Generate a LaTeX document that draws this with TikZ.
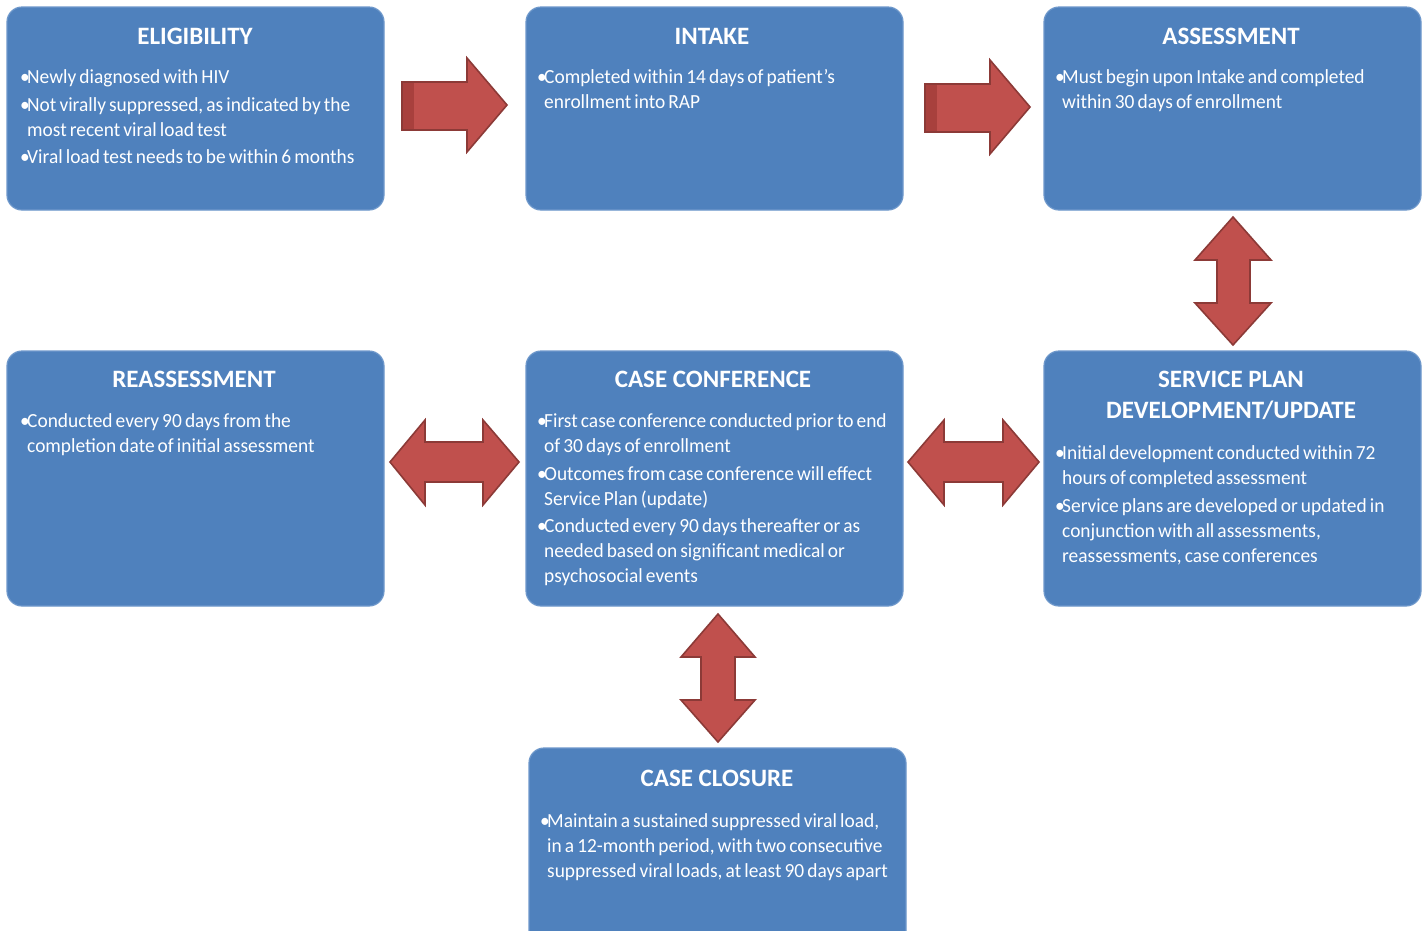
\documentclass[tikz,border=0pt]{standalone}
\usepackage{fontspec}
\setmainfont{Carlito}[FakeStretch=0.97, WordSpace=0.7]
\newfontfamily\titlefont{Carlito}
\definecolor{boxblue}{HTML}{4F81BD}
\definecolor{boxedge}{HTML}{6E98CB}
\definecolor{arrred}{HTML}{C0504D}
\definecolor{arredge}{HTML}{8C3A37}
\definecolor{arrdark}{HTML}{A8403D}
\newcommand{\bul}{\makebox[7pt][l]{\textbullet}}
\tikzset{
  blockbox/.style={draw=boxedge, line width=1.2pt, fill=boxblue, rounded corners=15pt},
  boxtitle/.style={text=white, font=\titlefont\fontsize{25}{31}\selectfont\bfseries, align=center, inner sep=0pt},
  boxbody/.style={text=white, font=\fontsize{20}{25}\selectfont, anchor=north west, inner sep=0pt}
  ,blockarrow/.style={fill=arrred, draw=arredge, line width=1.6pt, line join=miter}
}
\begin{document}
\begin{tikzpicture}[x=1pt, y=-1pt]
\useasboundingbox (0,0) rectangle (1427,930);
\clip (0,0) rectangle (1427,930);
\fill[white] (0,0) rectangle (1427,930);

% boxes
\draw[blockbox] (7,7) rectangle (384,210);
\draw[blockbox] (526,7) rectangle (903,210);
\draw[blockbox] (1044,7) rectangle (1421,210);
\draw[blockbox] (7,351) rectangle (384,606);
\draw[blockbox] (526,351) rectangle (903,606);
\draw[blockbox] (1044,351) rectangle (1421,606);
\draw[blockbox] (529,748) rectangle (906,960);

% titles
\node[boxtitle] (t1) at (195,36) {ELIGIBILITY};
\node[boxtitle] (t2) at (712,36) {INTAKE};
\node[boxtitle] (t3) at (1231,36) {ASSESSMENT};
\node[boxtitle] (t4) at (194,379) {REASSESSMENT};
\node[boxtitle] (t5) at (713,379) {CASE CONFERENCE};
\node[boxtitle] (t6) at (1231,395) {SERVICE PLAN\\DEVELOPMENT/UPDATE};
\node[boxtitle] (t7) at (717,778) {CASE CLOSURE};

% bodies
\node[boxbody] (b1) at (20,66) {\begin{tabular}{@{}l@{}l@{}}
\bul & Newly diagnosed with HIV\\[2.5pt]
\bul & Not virally suppressed, as indicated by the\\
 & most recent viral load test\\[2.5pt]
\bul & Viral load test needs to be within 6 months
\end{tabular}};
\node[boxbody] (b2) at (537,66) {\begin{tabular}{@{}l@{}l@{}}
\bul & Completed within 14 days of patient's\\
 & enrollment into RAP
\end{tabular}};
\node[boxbody] (b3) at (1055,66) {\begin{tabular}{@{}l@{}l@{}}
\bul & Must begin upon Intake and completed\\
 & within 30 days of enrollment
\end{tabular}};
\node[boxbody] (b4) at (20,410) {\begin{tabular}{@{}l@{}l@{}}
\bul & Conducted every 90 days from the\\
 & completion date of initial assessment
\end{tabular}};
\node[boxbody] (b5) at (537,410) {\begin{tabular}{@{}l@{}l@{}}
\bul & First case conference conducted prior to end\\
 & of 30 days of enrollment\\[2.5pt]
\bul & Outcomes from case conference will effect\\
 & Service Plan (update)\\[2.5pt]
\bul & Conducted every 90 days thereafter or as\\
 & needed based on significant medical or\\
 & psychosocial events
\end{tabular}};
\node[boxbody] (b6) at (1055,442) {\begin{tabular}{@{}l@{}l@{}}
\bul & Initial development conducted within 72\\
 & hours of completed assessment\\[2.5pt]
\bul & Service plans are developed or updated in\\
 & conjunction with all assessments,\\
 & reassessments, case conferences
\end{tabular}};
\node[boxbody] (b7) at (540,810) {\begin{tabular}{@{}l@{}l@{}}
\bul & Maintain a sustained suppressed viral load,\\
 & in a 12-month period, with two consecutive\\
 & suppressed viral loads, at least 90 days apart
\end{tabular}};

% right arrows
\draw[blockarrow] (402,82) -- (467,82) -- (467,58) -- (507,105) -- (467,152) -- (467,130) -- (402,130) -- cycle;
\fill[arrdark] (403,83) rectangle (414,129);
\draw[blockarrow] (925,84) -- (990,84) -- (990,60) -- (1030,107) -- (990,154) -- (990,132) -- (925,132) -- cycle;
\fill[arrdark] (926,85) rectangle (937,131);

% vertical double arrows
\draw[blockarrow] (1233,217) -- (1271,260) -- (1250,260) -- (1250,303) -- (1271,303) -- (1233,345) -- (1195,303) -- (1217,303) -- (1217,260) -- (1195,260) -- cycle;
\draw[blockarrow] (718,614) -- (755,657) -- (735,657) -- (735,700) -- (755,700) -- (718,742) -- (681,700) -- (701,700) -- (701,657) -- (681,657) -- cycle;

% horizontal double arrows
\draw[blockarrow] (390,462) -- (425,420) -- (425,442) -- (483,442) -- (483,420) -- (519,462) -- (483,505) -- (483,482) -- (425,482) -- (425,505) -- cycle;
\draw[blockarrow] (908,462) -- (944,420) -- (944,442) -- (1003,442) -- (1003,420) -- (1039,462) -- (1003,505) -- (1003,482) -- (944,482) -- (944,505) -- cycle;
\end{tikzpicture}
\end{document}
